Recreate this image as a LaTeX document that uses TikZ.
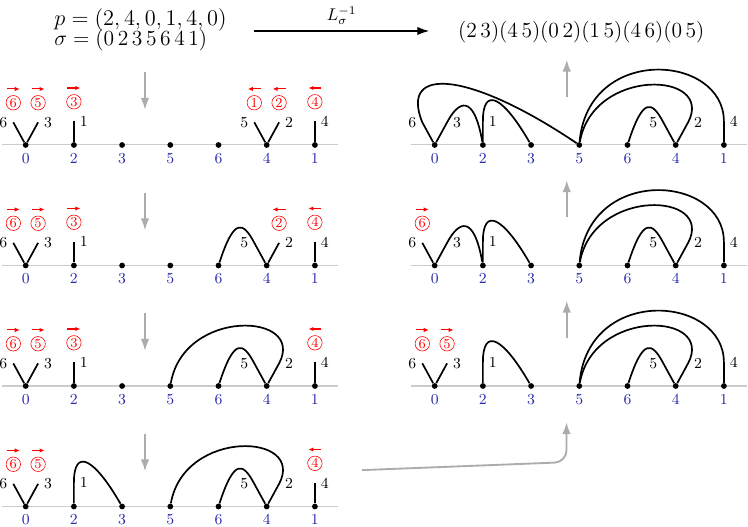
\documentclass[tikz,border=0pt]{standalone}
\usepackage{tikz}
\usetikzlibrary{arrows.meta,positioning,calc}
\definecolor{idxblue}{RGB}{40,40,170}

\begin{document}
\begin{tikzpicture}[
    dot/.style={circle, fill, inner sep=0pt, minimum size=3.4pt},
    idx/.style={font=\small, text=idxblue, inner sep=1pt},
    lab/.style={font=\small},
    strand/.style={line width=1pt},
    axis/.style={gray!40, line width=0.6pt},
    ord/.style={circle, draw=red, text=red, line width=0.35pt, inner sep=0pt, minimum size=0.3cm, font=\footnotesize},
    dirr/.style={red, line width=0.6pt, -{Latex[length=3pt,width=2.6pt]}},
    flow/.style={gray!65, line width=1.1pt, -{Latex[length=7pt,width=5pt]}},
    maparrow/.style={line width=0.8pt, -{Latex[length=7pt,width=5pt]}},
    head/.style={font=\large}
]
\useasboundingbox (-0.533,-7.905) rectangle (14.985,3.008);

% header
\node[head, anchor=west] (perm) at (0.47,2.59) {\scalebox{1.1}{$p=(2,4,0,1,4,0)$}};
\node[head, anchor=west] (sigma) at (0.47,2.17) {\scalebox{1.06}{$\sigma=(0\,2\,3\,5\,6\,4\,1)$}};
\node[head] (cycles) at (11.53,2.35) {\scalebox{1.06}{$(2\,3)(4\,5)(0\,2)(1\,5)(4\,6)(0\,5)$}};
\coordinate (m0) at (4.74,2.365);
\coordinate (m1) at (8.37,2.365);
\draw[maparrow] (m0) -- (m1) node[midway, above] {$L_\sigma^{-1}$};

% panels: baseline, points, strand tops and labels
\foreach \p/\sx/\sy in {L1/0/0, L2/0/-2.5, L3/0/-5, L4/0/-7.5, R1/8.485/0, R2/8.485/-2.5, R3/8.485/-5} {
  \begin{scope}[shift={(\sx,\sy)}]
    \coordinate (\p-l) at (-0.49,0);
    \coordinate (\p-r) at (6.485,0);
    \draw[axis] (\p-l) -- (\p-r);
    \foreach \v [count=\i from 0] in {0,2,3,5,6,4,1}
      \node[dot, label={[idx, name=\p-i\v, label distance=0.06cm]below:\v}] (\p-\v) at (\i,0) {};
    \coordinate (\p-s6) at (-0.257,0.47);
    \coordinate (\p-s3) at (0.257,0.47);
    \coordinate (\p-s1) at (1,0.49);
    \coordinate (\p-s5) at (4.743,0.47);
    \coordinate (\p-s2) at (5.257,0.47);
    \coordinate (\p-s4) at (6,0.49);
    \node[lab, left=0pt of \p-s6] (\p-t6) {6};
    \node[lab, right=0pt of \p-s3] (\p-t3) {3};
    \node[lab, right=0pt of \p-s1] (\p-t1) {1};
    \node[lab, left=0pt of \p-s5] (\p-t5) {5};
    \node[lab, right=0pt of \p-s2] (\p-t2) {2};
    \node[lab, right=0pt of \p-s4] (\p-t4) {4};
  \end{scope}
}

% open strands
\foreach \p in {L1,L2,L3,L4,R2,R3} \draw[strand] (\p-0) -- (\p-s6);
\foreach \p in {L1,L2,L3,L4,R3} \draw[strand] (\p-0) -- (\p-s3);
\foreach \p in {L1,L2,L3} \draw[strand] (\p-2) -- (\p-s1);
\foreach \p in {L1} \draw[strand] (\p-4) -- (\p-s5);
\foreach \p in {L1,L2} \draw[strand] (\p-4) -- (\p-s2);
\foreach \p in {L1,L2,L3,L4} \draw[strand] (\p-1) -- (\p-s4);

% closed arcs
\foreach \p in {L2,L3,L4,R1,R2,R3}
  \draw[strand] (\p-4) -- (\p-s5) .. controls +(118:0.5) and +(72:1.05) .. (\p-6);
\foreach \p in {L3,L4,R1,R2,R3}
  \draw[strand] (\p-4) -- (\p-s2) .. controls +(62:1.2) and +(80:1.65) .. (\p-5);
\foreach \p in {L4,R1,R2,R3}
  \draw[strand] (\p-2) -- (\p-s1) .. controls +(90:0.75) and +(120:1.15) .. (\p-3);
\foreach \p in {R1,R2,R3}
  \draw[strand] (\p-1) -- (\p-s4) .. controls +(90:1.4) and +(85:2.1) .. (\p-5);
\foreach \p in {R1,R2}
  \draw[strand] (\p-0) -- (\p-s3) .. controls +(62:0.5) and +(100:1.1) .. (\p-2);
\foreach \p in {R1}
  \draw[strand] (\p-0) -- (\p-s6) .. controls +(112:1.3) and +(146:2.7) .. (\p-5);

% order of the moves
\foreach \p/\n/\s in {L1/6/s6, L1/5/s3, L1/3/s1, L2/6/s6, L2/5/s3, L2/3/s1, L3/6/s6, L3/5/s3, L3/3/s1, L4/6/s6, L4/5/s3, R3/6/s6, R3/5/s3, R2/6/s6} {
  \node[ord, above=0.25cm of \p-\s] (\p-o\n) {\n};
  \draw[dirr] ([shift={(-0.135,0.13)}]\p-o\n.north) -- ([shift={(0.135,0.13)}]\p-o\n.north);
}
\foreach \p/\n/\s in {L1/1/s5, L1/2/s2, L1/4/s4, L2/2/s2, L2/4/s4, L3/4/s4, L4/4/s4} {
  \node[ord, above=0.25cm of \p-\s] (\p-o\n) {\n};
  \draw[dirr] ([shift={(0.135,0.13)}]\p-o\n.north) -- ([shift={(-0.135,0.13)}]\p-o\n.north);
}

% steps
\foreach \p in {L1,L2,L3,L4}
  \draw[flow] ([shift={(2.475,1.51)}]\p-0.center) -- ([shift={(2.475,0.73)}]\p-0.center);
\foreach \p in {R1,R2,R3}
  \draw[flow] ([shift={(2.74,1.0)}]\p-0.center) -- ([shift={(2.74,1.77)}]\p-0.center);
\coordinate (jump0) at (6.98,-6.745);
\coordinate (jump1) at (11.22,-6.58);
\coordinate (jump2) at (11.22,-5.75);
\draw[flow, rounded corners=7pt] (jump0) -- (jump1) -- (jump2);

\end{tikzpicture}
\end{document}
